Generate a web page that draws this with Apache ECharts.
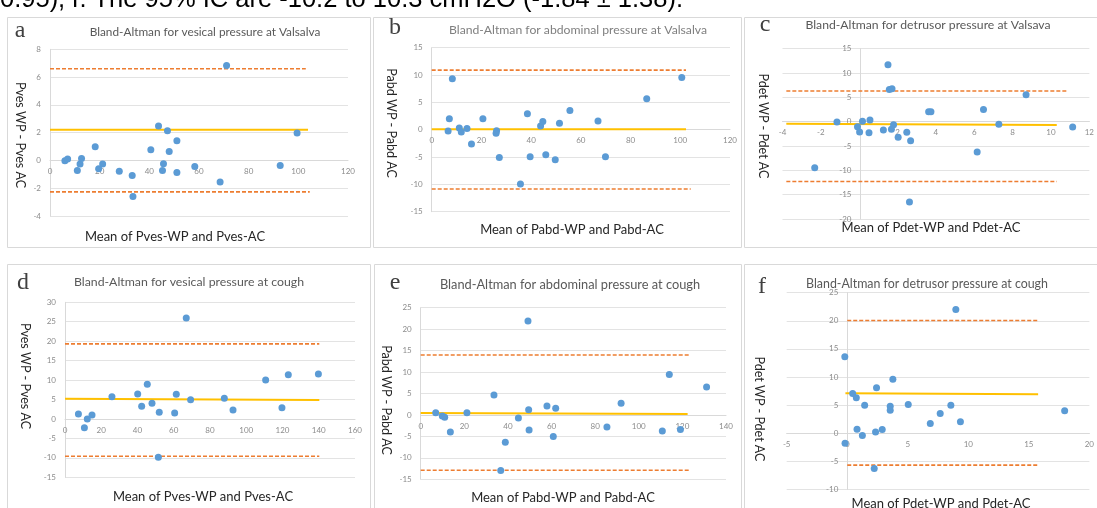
<!DOCTYPE html>
<html><head><meta charset="utf-8">
<script src="https://cdn.jsdelivr.net/npm/echarts@6/dist/echarts.min.js"></script>
<style>html,body{margin:0;padding:0;background:#fff}#c{width:1097px;height:508px}</style>
</head><body><div id="c"></div>
<script>
// ---- data ----
const aX = [6.0,7.1,11.0,12.1,12.7,18.2,19.6,21.2,27.9,33.1,33.4,40.6,43.7,45.3,45.7,47.3,48.0,51.1,51.1,58.3,68.5,71.1,92.7,99.5];
const aY = [-0.02,0.1,-0.72,-0.26,0.14,0.98,-0.6,-0.26,-0.77,-1.08,-2.59,0.77,2.47,-0.72,-0.24,2.14,0.65,1.42,-0.86,-0.43,-1.56,6.84,-0.36,1.97];
const aMeanX = [0,103.9], aMeanY = [2.2,2.2];
const aUpX = [0,103], aUpY = [6.6,6.6];
const aLoX = [0,104.6], aLoY = [-2.26,-2.26];

const bX = [6.6,7.1,8.3,11.1,11.9,14.2,16.0,20.6,26.1,25.9,27.2,35.7,38.5,39.6,43.8,44.7,45.9,49.7,51.4,55.6,66.9,69.9,86.5,100.6];
const bY = [-0.24,2.0,9.3,0.3,-0.43,0.24,-2.6,2.0,-0.18,-0.67,-5.1,-9.94,2.9,-4.94,0.67,1.5,-4.6,-5.5,1.2,3.5,1.6,-4.94,5.67,9.57];
const bMeanX = [0,102.3], bMeanY = [0.06,0.06];
const bUpX = [0,102.3], bUpY = [10.9,10.9];
const bLoX = [0,104.2], bLoY = [-10.85,-10.85];

const cX = [-2.32,-1.16,-0.09,0.02,0.17,0.51,0.56,1.26,1.5,1.57,1.71,1.68,1.79,2.03,2.48,2.62,2.68,3.62,3.74,6.15,6.48,7.28,8.7,11.13];
const cY = [-9.45,-0.07,-1.03,-2.1,0.07,-2.26,0.34,-1.71,11.7,6.64,6.78,-1.58,-0.62,-3.2,-2.19,-16.5,-3.9,2.05,2.05,-6.23,2.53,-0.55,5.55,-1.1];
const cMeanX = [-3.8,10.3], cMeanY = [-0.4,-0.7];
const cUpX = [-3.8,10.9], cUpY = [6.3,6.3];
const cLoX = [-3.8,10.3], cLoY = [-12.3,-12.3];

const dX = [7.4,10.7,12.3,14.9,25.9,40.1,42.3,45.4,48.0,52.0,51.5,60.5,61.4,66.9,69.3,87.9,92.7,110.7,119.7,123.2,139.8];
const dY = [1.29,-2.23,0.0,1.03,5.74,6.43,3.26,8.9,4.03,1.71,-9.85,1.54,6.34,25.96,4.97,5.31,2.31,10.0,2.91,11.4,11.57];
const dMeanX = [0,140.3], dMeanY = [5.23,4.88];
const dUpX = [0,140.3], dUpY = [19.3,19.3];
const dLoX = [0,140.3], dLoY = [-9.6,-9.6];

const eX = [6.9,9.9,11.0,13.6,21.2,33.6,36.7,38.8,44.8,49.2,49.5,49.7,57.9,60.8,61.9,85.4,91.9,110.8,114.0,119.1,131.1];
const eY = [0.54,-0.23,-0.54,-3.96,0.54,4.66,-12.97,-6.37,-0.7,21.9,1.24,-3.5,2.1,-5.05,1.55,-2.8,2.72,-3.73,9.4,-3.42,6.52];
const eMeanX = [0,122.4], eMeanY = [0.47,0.23];
const eUpX = [0,123], eUpY = [13.98,13.98];
const eLoX = [0,123], eLoY = [-12.9,-12.9];

const fX = [-0.2,-0.18,0.45,0.75,0.81,1.25,1.44,2.23,2.34,2.42,2.89,3.55,3.55,3.77,5.04,6.86,7.68,8.56,8.97,9.35,17.96];
const fY = [13.58,-1.78,7.06,6.29,0.71,-0.42,4.98,-6.29,0.18,8.07,0.65,4.8,4.09,9.61,5.1,1.72,3.5,4.98,22.0,2.02,3.97];
const fMeanX = [-0.15,15.77], fMeanY = [7.12,6.94];
const fUpX = [0,15.77], fUpY = [20.05,20.05];
const fLoX = [0,15.77], fLoY = [-5.7,-5.7];

// axis ranges [min,max,interval]
const xRanges = [[0,120,20],[0,120,20],[-4,12,2],[0,160,20],[0,140,20],[-5,20,5]];
const yRanges = [[-4,8,2],[-15,15,5],[-20,15,5],[-15,30,5],[-15,25,5],[-10,25,5]];

const panelLetters = ['a','b','c','d','e','f'];
const panelTitles = [
  'Bland-Altman for vesical pressure at Valsalva',
  'Bland-Altman for abdominal pressure at Valsalva',
  'Bland-Altman for detrusor pressure at Valsava',
  'Bland-Altman for vesical pressure at cough',
  'Bland-Altman for abdominal pressure at cough',
  'Bland-Altman for detrusor pressure at cough'
];
const yTitles = ['Pves WP - Pves AC','Pabd WP - Pabd AC','Pdet WP - Pdet AC','Pves WP - Pves AC','Pabd WP - Pabd AC','Pdet WP - Pdet AC'];
const xTitles = ['Mean of Pves-WP and Pves-AC','Mean of Pabd-WP and Pabd-AC','Mean of Pdet-WP and Pdet-AC','Mean of Pves-WP and Pves-AC','Mean of Pabd-WP and Pabd-AC','Mean of Pdet-WP and Pdet-AC'];
const headerText = '0.95), r. The 95% IC are -10.2 to 10.3 cmH2O (-1.84 \u00b1 1.38).';

// ---- layout ----
const grids = [
  {left:50, top:49.3, width:298, height:166.7},
  {left:431.7, top:47.7, width:298.3, height:164},
  {left:782.5, top:48.7, width:311.8, height:170.3},
  {left:65, top:302.3, width:290, height:175},
  {left:420.7, top:307.7, width:305.3, height:171.6},
  {left:786.7, top:292.7, width:303.3, height:196.6}
];
const boxes = [[7,17,363,230],[373,17,368,230],[744,17,360,230],[7,264,363,260],[374,264,367,260],[744,264,360,260]];
const letterPos = [[20,31],[395,28],[765,25],[23,283],[395,283],[762,287]];
const titlePos = [[205,32,'#595959',11.8],[578,30,'#7f7f7f',12.2],[928,25,'#595959',12.2],[189,282,'#595959',12.3],[570,285,'#595959',12.8],[927,284,'#595959',12.4]];
const yTitlePos = [[20,135],[391,123],[763,126],[25,376],[386,400],[759,409]];
const xTitlePos = [[175,237],[572,230],[931,228],[203,497],[563,498],[941,504]];

const scatterX = [aX,bX,cX,dX,eX,fX], scatterY = [aY,bY,cY,dY,eY,fY];
const meanX = [aMeanX,bMeanX,cMeanX,dMeanX,eMeanX,fMeanX], meanY = [aMeanY,bMeanY,cMeanY,dMeanY,eMeanY,fMeanY];
const upX = [aUpX,bUpX,cUpX,dUpX,eUpX,fUpX], upY = [aUpY,bUpY,cUpY,dUpY,eUpY,fUpY];
const loX = [aLoX,bLoX,cLoX,dLoX,eLoX,fLoX], loY = [aLoY,bLoY,cLoY,dLoY,eLoY,fLoY];

const zip = (xs, ys) => xs.map((x, i) => [x, ys[i]]);
const FONT = 'Lato, "Open Sans", sans-serif';
const axisLabel = {color:'#8c8c8c', fontSize:8, fontFamily:FONT};

const xAxis = [], yAxis = [], series = [], graphic = [];
for (let i = 0; i < 6; i++) {
  const [xmin, xmax] = xRanges[i], [ymin, ymax] = yRanges[i];
  // put each axis where the other axis is zero (Excel style crossing)
  const xOffset = -grids[i].height * (0 - ymin) / (ymax - ymin);
  const yOffset = -grids[i].width * Math.max(0, 0 - xmin) / (xmax - xmin);
  xAxis.push({type:'value', gridIndex:i, min:xmin, max:xmax, interval:xRanges[i][2], offset:xOffset,
    axisLine:{onZero:false, lineStyle:{color:'#d9d9d9'}}, axisTick:{show:false}, splitLine:{show:false},
    axisLabel:Object.assign({margin:7}, axisLabel)});
  yAxis.push({type:'value', gridIndex:i, min:ymin, max:ymax, interval:yRanges[i][2], offset:yOffset,
    axisLine:{show:true, onZero:false, lineStyle:{color:'#d9d9d9'}}, axisTick:{show:false},
    splitLine:{show:true, lineStyle:{color:'#e3e3e3', width:1}},
    axisLabel:Object.assign({margin:9}, axisLabel)});
  series.push({type:'line', xAxisIndex:i, yAxisIndex:i, data:zip(upX[i], upY[i]), symbol:'none',
    lineStyle:{color:'#ED7D31', width:1.6, type:[4,2]}, z:2});
  series.push({type:'line', xAxisIndex:i, yAxisIndex:i, data:zip(loX[i], loY[i]), symbol:'none',
    lineStyle:{color:'#ED7D31', width:1.6, type:[4,2]}, z:2});
  series.push({type:'line', xAxisIndex:i, yAxisIndex:i, data:zip(meanX[i], meanY[i]), symbol:'none',
    lineStyle:{color:'#FFC000', width:2}, z:2});
  series.push({type:'scatter', xAxisIndex:i, yAxisIndex:i, data:zip(scatterX[i], scatterY[i]),
    symbolSize:7, itemStyle:{color:'#5B9BD5', opacity:1}, z:3});

  const b = boxes[i];
  graphic.push({type:'rect', silent:true, z:-10, shape:{x:b[0]+0.5, y:b[1]+0.5, width:b[2], height:b[3]},
    style:{fill:'none', stroke:'#d9d9d9', lineWidth:1}});
  graphic.push({type:'text', x:letterPos[i][0], y:letterPos[i][1],
    style:{text:panelLetters[i], font:'24px "Liberation Serif", "DejaVu Serif", serif', fill:'#404040', align:'center', verticalAlign:'middle'}});
  const t = titlePos[i];
  graphic.push({type:'text', x:t[0], y:t[1],
    style:{text:panelTitles[i], font:t[3]+'px '+FONT, fill:t[2], align:'center', verticalAlign:'middle'}});
  graphic.push({type:'text', x:yTitlePos[i][0], y:yTitlePos[i][1], rotation:-Math.PI/2,
    style:{text:yTitles[i], font:'12.5px '+FONT, fill:'#262626', align:'center', verticalAlign:'middle'}});
  graphic.push({type:'text', x:xTitlePos[i][0], y:xTitlePos[i][1],
    style:{text:xTitles[i], font:'13px '+FONT, fill:'#262626', align:'center', verticalAlign:'middle'}});
}
graphic.push({type:'text', x:0, y:-0.5,
  style:{text:headerText, font:'25.5px "Liberation Sans", Arial, sans-serif', fill:'#000', align:'left', verticalAlign:'middle'}});

const chart = echarts.init(document.getElementById('c'), null, {renderer:'canvas'});
chart.setOption({
  animation:false,
  grid:grids,
  xAxis, yAxis, series, graphic
});
</script>
</body></html>
